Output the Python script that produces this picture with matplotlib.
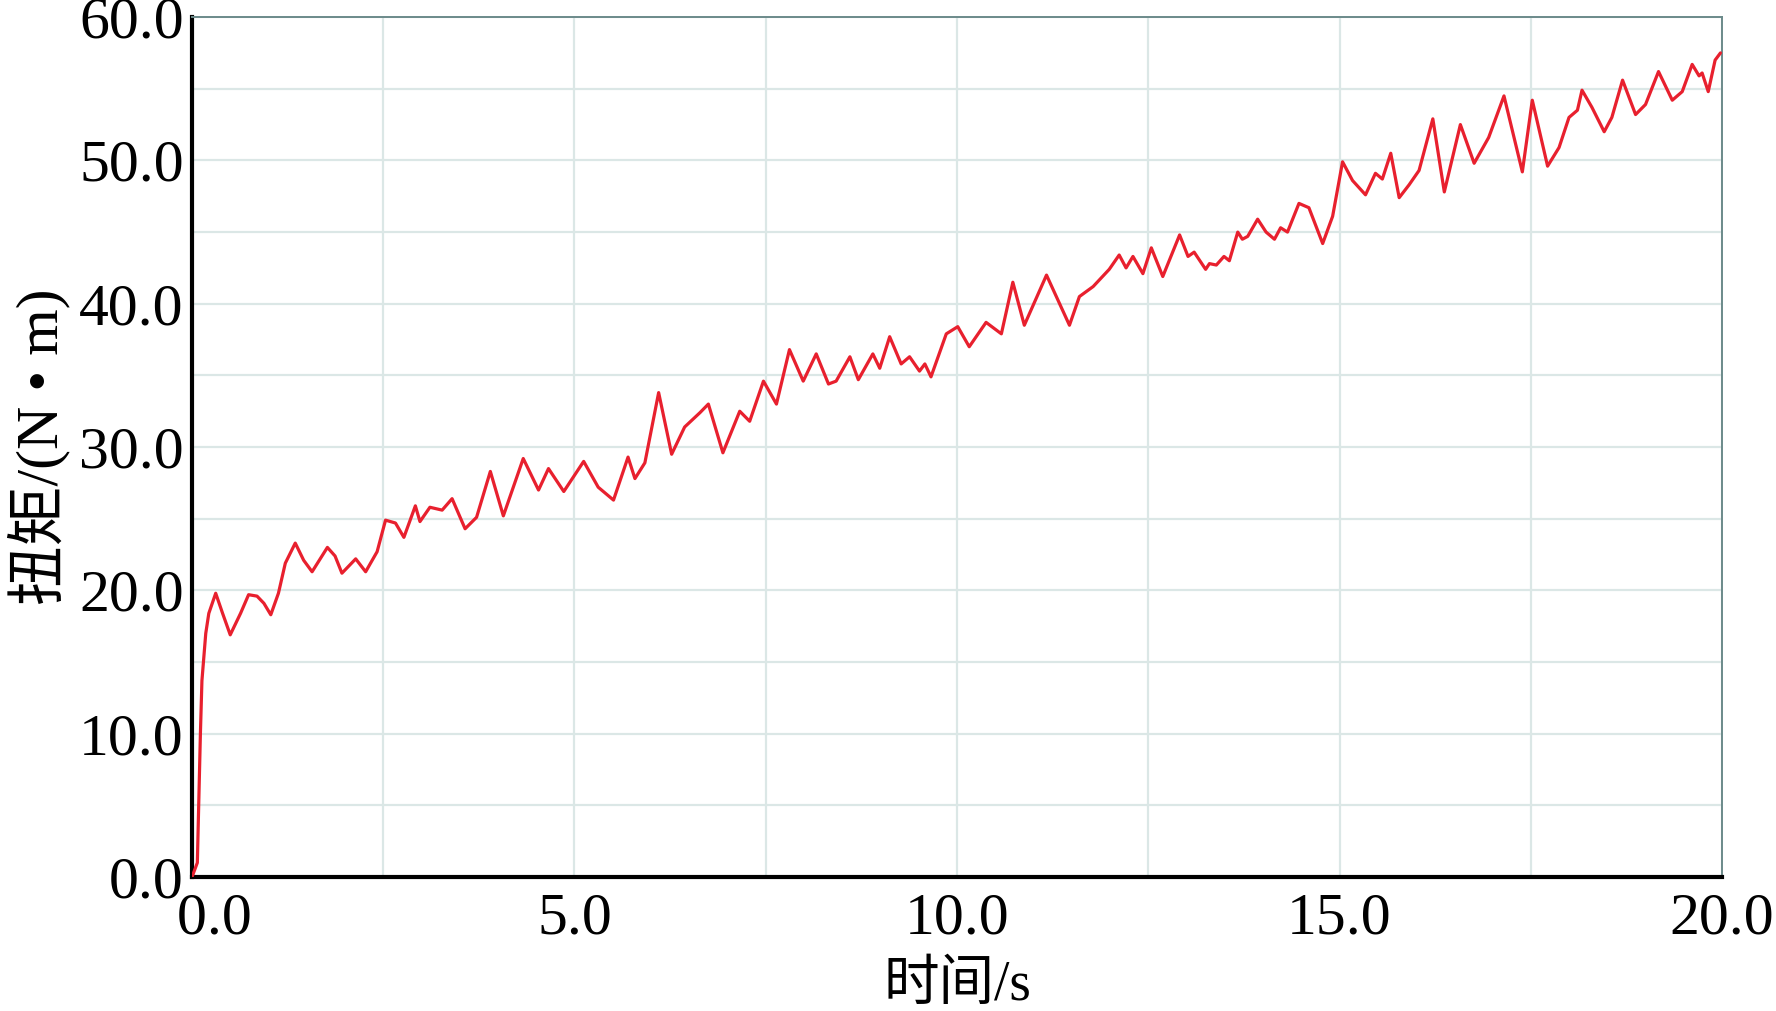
import matplotlib
matplotlib.use("Agg")
import matplotlib.pyplot as plt
from matplotlib.ticker import MultipleLocator, FormatStrFormatter, FuncFormatter

# 时间 (s) 与 扭矩 (N·m)
t = [0.0, 0.07, 0.11, 0.13, 0.18, 0.22, 0.31, 0.40, 0.50, 0.635, 0.74, 0.85, 0.94,
     1.03, 1.13, 1.22, 1.35, 1.46, 1.57, 1.77, 1.87, 1.96, 2.14, 2.27, 2.42, 2.53,
     2.66, 2.77, 2.92, 2.98, 3.11, 3.27, 3.40, 3.57, 3.72, 3.90, 4.07, 4.33, 4.53,
     4.66, 4.86, 5.12, 5.31, 5.51, 5.70, 5.79, 5.92, 6.10, 6.27, 6.44, 6.64, 6.75,
     6.94, 7.16, 7.29, 7.47, 7.64, 7.81, 7.99, 8.16, 8.32, 8.42, 8.60, 8.71, 8.90,
     8.99, 9.12, 9.27, 9.38, 9.51, 9.58, 9.66, 9.86, 10.01, 10.16, 10.38, 10.58,
     10.73, 10.88, 11.17, 11.47, 11.60, 11.78, 11.99, 12.12, 12.21, 12.30, 12.43,
     12.54, 12.69, 12.91, 13.02, 13.10, 13.25, 13.30, 13.39, 13.49, 13.56, 13.67,
     13.73, 13.80, 13.93, 14.04, 14.15, 14.23, 14.32, 14.47, 14.60, 14.78, 14.91,
     15.04, 15.17, 15.34, 15.47, 15.56, 15.67, 15.78, 15.91, 16.04, 16.22, 16.37,
     16.58, 16.76, 16.95, 17.15, 17.39, 17.52, 17.72, 17.87, 18.00, 18.11, 18.17,
     18.30, 18.46, 18.56, 18.70, 18.87, 19.00, 19.17, 19.35, 19.48, 19.61, 19.70,
     19.74, 19.82, 19.91, 19.98]
torque = [0.0, 1.0, 10.0, 13.7, 17.0, 18.4, 19.8, 18.4, 16.9, 18.4, 19.7, 19.6, 19.1,
          18.3, 19.8, 21.9, 23.3, 22.1, 21.3, 23.0, 22.4, 21.2, 22.2, 21.3, 22.7, 24.9,
          24.7, 23.7, 25.9, 24.8, 25.8, 25.6, 26.4, 24.3, 25.1, 28.3, 25.2, 29.2, 27.0,
          28.5, 26.9, 29.0, 27.2, 26.3, 29.3, 27.8, 28.9, 33.8, 29.5, 31.4, 32.4, 33.0,
          29.6, 32.5, 31.8, 34.6, 33.0, 36.8, 34.6, 36.5, 34.4, 34.6, 36.3, 34.7, 36.5,
          35.5, 37.7, 35.8, 36.3, 35.3, 35.8, 34.9, 37.9, 38.4, 37.0, 38.7, 37.9,
          41.5, 38.5, 42.0, 38.5, 40.5, 41.2, 42.4, 43.4, 42.5, 43.3, 42.1,
          43.9, 41.9, 44.8, 43.3, 43.6, 42.4, 42.8, 42.7, 43.3, 43.0, 45.0,
          44.5, 44.7, 45.9, 45.0, 44.5, 45.3, 45.0, 47.0, 46.7, 44.2, 46.1,
          49.9, 48.6, 47.6, 49.1, 48.7, 50.5, 47.4, 48.3, 49.3, 52.9, 47.8,
          52.5, 49.8, 51.6, 54.5, 49.2, 54.2, 49.6, 50.9, 53.0, 53.5, 54.9,
          53.7, 52.0, 53.0, 55.6, 53.2, 53.9, 56.2, 54.2, 54.8, 56.7, 55.9,
          56.1, 54.8, 57.0, 57.5]

label_font = ['Liberation Serif', 'Noto Sans CJK SC']

fig = plt.figure(figsize=(17.76, 10.11), dpi=100)
ax = fig.add_axes([0.1081, 0.1325, 0.8615, 0.8506])

ax.plot(t, torque, color='#e8202e', linewidth=2.3, zorder=3,
        solid_joinstyle='round', solid_capstyle='round')

ax.set_xlim(0, 20)
ax.set_ylim(0, 60)
ax.xaxis.set_major_locator(MultipleLocator(5))
ax.xaxis.set_minor_locator(MultipleLocator(2.5))
ax.yaxis.set_major_locator(MultipleLocator(10))
ax.yaxis.set_minor_locator(MultipleLocator(5))
# the x "0.0" is nudged right (leading spaces) so it clears the y "0.0"
ax.xaxis.set_major_formatter(FuncFormatter(lambda v, pos: '   0.0' if v == 0 else f'{v:.1f}'))
ax.yaxis.set_major_formatter(FormatStrFormatter('%.1f'))
ax.grid(True, which='both', color='#dbe7e6', linewidth=1.6, zorder=0)

ax.tick_params(which='both', length=0, labelsize=43, labelfontfamily='Liberation Serif')
ax.tick_params(axis='x', pad=11)
ax.tick_params(axis='y', pad=6)

for side in ['left', 'bottom']:
    ax.spines[side].set_color('black')
    ax.spines[side].set_linewidth(3.0)
for side in ['top', 'right']:
    ax.spines[side].set_color('#6b8a8a')
    ax.spines[side].set_linewidth(1.4)

ax.set_xlabel('时间/s', family=label_font, fontsize=40, labelpad=10)
ax.set_ylabel('扭矩/(N • m)', family=label_font, fontsize=43, labelpad=6)

fig.savefig('out.png', dpi=100)
